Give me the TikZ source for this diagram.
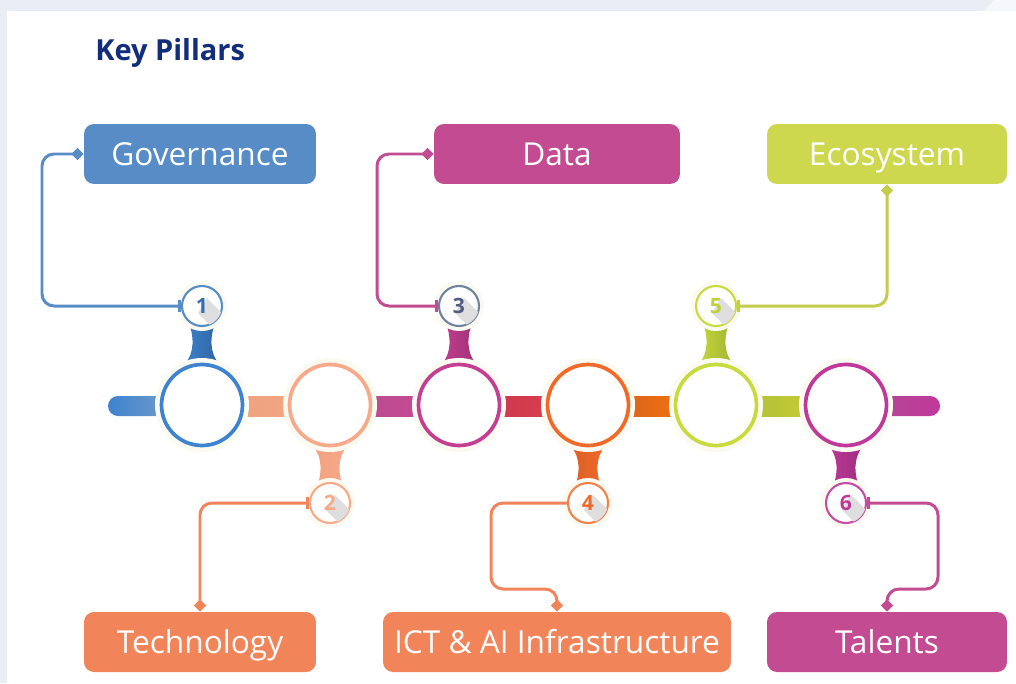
\documentclass[tikz,border=0pt]{standalone}
\usepackage{fontspec}
\setmainfont{Open Sans}
\usetikzlibrary{arrows.meta}

\definecolor{pagebg}{HTML}{E9EDF6}
\definecolor{titleblue}{HTML}{132D7D}
\definecolor{halo}{HTML}{FBFAF1}
\definecolor{govblue}{HTML}{578CC6}
\definecolor{datamag}{HTML}{C24B91}
\definecolor{ecolime}{HTML}{CDD84F}
\definecolor{techorg}{HTML}{F2845A}
\definecolor{ringA}{HTML}{3E83CF}
\definecolor{ringB}{HTML}{F8A98A}
\definecolor{ringC}{HTML}{C43E92}
\definecolor{ringD}{HTML}{F26A2A}
\definecolor{ringE}{HTML}{C8DB3E}
\definecolor{ringF}{HTML}{C0399A}
\definecolor{crimsonL}{HTML}{C5344F}
\definecolor{crimsonR}{HTML}{E0434C}
\definecolor{shadowgray}{HTML}{DEDEDE}

% hourglass neck between a badge and a ring: x, narrow-end y, wide-end y, left colour, right colour
\newcommand\drawneck[5]{%
  \shade[left color=#4, right color=#5]
    ({#1-12},#2) -- ({#1+12},#2)
    .. controls ({#1+7},{0.6*#2+0.4*#3}) and ({#1+9},{0.25*#2+0.75*#3}) .. ({#1+21},#3)
    -- ({#1-21},#3)
    .. controls ({#1-9},{0.25*#2+0.75*#3}) and ({#1-7},{0.6*#2+0.4*#3}) .. ({#1-12},#2)
    -- cycle;}

% numbered badge with its long shadow: name, x, y, border colour, digit colour, digit
\newcommand\drawbadge[6]{%
  \fill[halo] (#2,#3) circle[radius=0.5cm];
  \node[badge, draw=#4] (#1) at (#2,#3) {};
  \begin{scope}
    \clip (#2,#3) circle[radius=0.4cm];
    \fill[shadowgray] ({#2-4},{#3+7}) -- ({#2+5},{#3-8}) -- ({#2+37},{#3+24}) -- ({#2+28},{#3+39}) -- cycle;
  \end{scope}
  \node[digit, text=#5] at (#1.center) {#6};}

\tikzset{
  startbar/.tip={Bar[width=6.5pt, line width=1.6pt]},
  enddiamond/.tip={Diamond[length=7pt, width=7pt]},
  pillar/.style={rectangle, rounded corners=0.2cm, minimum height=1.2cm,
    inner sep=0pt, text=white, text height=16pt, text depth=2.5pt,
    font=\fontsize{18}{21}\selectfont},
  ring/.style={circle, minimum size=1.62cm, inner sep=0pt, fill=white, line width=2.1pt},
  badge/.style={circle, minimum size=0.8cm, inner sep=0pt, fill=white, line width=1.2pt},
  digit/.style={font=\fontsize{12}{14}\selectfont\bfseries, inner sep=0pt},
  link/.style={line width=1.7pt, rounded corners=0.24cm}
}

\begin{document}
\begin{tikzpicture}[x=0.02cm, y=-0.02cm]
\useasboundingbox (0,0) rectangle (1016,683);

% page frame
\fill[pagebg] (0,0) rectangle (1016,683);
\fill[white] (7,11) rectangle (1016,683);
\fill[white!55!pagebg] (983,11) -- (994,0) -- (1016,0) -- (1016,11) -- cycle;

% title
\node[anchor=west, text=titleblue, font=\fontsize{16.5}{20}\selectfont\bfseries, inner sep=0pt]
  (title) at (95,53) {Key Pillars};

% timeline bars
\shade[left color=ringA, right color=ringA!55!gray!70!white]
  (202,396) [rounded corners=0.2cm] -- (108,396) -- (108,416) [sharp corners] -- (202,416) -- cycle;
\shade[left color=ringB!75!brown, right color=ringB] (202,396) rectangle (330,416);
\shade[left color=ringC!80!gray, right color=ringC!90!pink] (330,396) rectangle (459,416);
\shade[left color=crimsonL, right color=crimsonR] (459,396) rectangle (588,416);
\shade[left color=ringD!85!black, right color=orange!80!ringD] (588,396) rectangle (716,416);
\shade[left color=ringE!85!black, right color=ringE!90!orange] (716,396) rectangle (846,416);
\shade[left color=ringF!70!gray, right color=ringF]
  (846,396) [rounded corners=0.2cm] -- (940,396) -- (940,416) [sharp corners] -- (846,416) -- cycle;

% necks between badges and rings
\drawneck{202}{326}{368}{ringA}{ringA!75!black}
\drawneck{459}{326}{368}{ringC}{ringC!80!black}
\drawneck{716}{326}{368}{ringE}{ringE!80!black}
\drawneck{330}{484}{442}{ringB!85!brown}{ringB}
\drawneck{588}{484}{442}{ringD!90!black}{ringD}
\drawneck{846}{484}{442}{ringF}{ringF!80!black}

% rings
\foreach \x in {202,330,459,588,716,846}
  \fill[halo] (\x,405) circle[radius=0.94cm];
\node[ring, draw=ringA] (c1) at (202,405) {};
\node[ring, draw=ringB] (c2) at (330,405) {};
\node[ring, draw=ringC] (c3) at (459,405) {};
\node[ring, draw=ringD] (c4) at (588,405) {};
\node[ring, draw=ringE] (c5) at (716,405) {};
\node[ring, draw=ringF] (c6) at (846,405) {};

% numbered badges
\drawbadge{n1}{202}{306}{govblue}{ringA!85!black}{1}
\drawbadge{n3}{459}{306}{gray!60!govblue}{gray!55!titleblue}{3}
\drawbadge{n5}{716}{306}{ringE}{ringE!95!black}{5}
\drawbadge{n2}{330}{503}{ringB}{ringB}{2}
\drawbadge{n4}{588}{503}{ringD!85!white}{ringD}{4}
\drawbadge{n6}{846}{503}{ringF!90!white}{ringF}{6}

% pillar boxes
\node[pillar, fill=govblue, minimum width=4.64cm] (gov) at (200,154) {Governance};
\node[pillar, fill=datamag, minimum width=4.92cm] (data) at (557,154) {Data};
\node[pillar, fill=ecolime, minimum width=4.8cm] (eco) at (887,154) {Ecosystem};
\node[pillar, fill=techorg, minimum width=4.64cm] (tech) at (200,642) {Technology};
\node[pillar, fill=techorg, minimum width=6.96cm] (ict) at (557,642) {ICT \& AI Infrastructure};
\node[pillar, fill=datamag, minimum width=4.8cm] (tal) at (887,642) {Talents};

% connectors from badges to boxes
\draw[link, govblue, startbar-enddiamond] (n1.west) -- (42,306) |- (gov.west);
\draw[link, datamag, startbar-enddiamond] (n3.west) -- (377,306) |- (data.west);
\draw[link, ecolime!95!black, startbar-enddiamond] (n5.east) -| (eco.south);
\draw[link, techorg, startbar-enddiamond] (n2.west) -| (tech.north);
\draw[link, techorg, -enddiamond] (n4.west) -- (491,503) -- (491,589) -| (ict.north);
\draw[link, datamag, startbar-enddiamond] (n6.east) -- (938,503) -- (938,589) -| (tal.north);
\end{tikzpicture}
\end{document}
